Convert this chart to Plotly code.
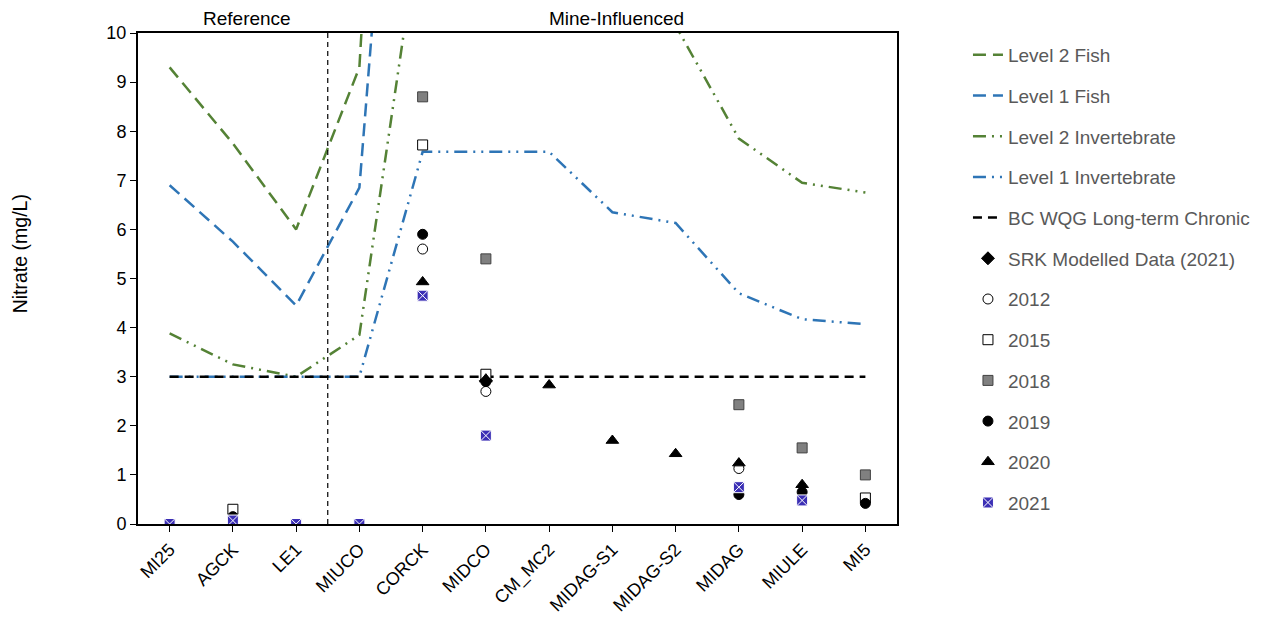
import plotly.graph_objects as go

cats = ["MI25", "AGCK", "LE1", "MIUCO", "CORCK", "MIDCO", "CM_MC2",
        "MIDAG-S1", "MIDAG-S2", "MIDAG", "MIULE", "MI5"]

level2_fish = [9.3, 7.75, 6.0, 9.3, 31, 30, 29, 26, 25, 21, 19, 18]
level1_fish = [6.9, 5.75, 4.45, 6.85, 23, 22, 21, 19, 18, 15, 14, 13]
level2_invert = [3.88, 3.25, 3.0, 3.85, 12.6, 12.6, 12.6, 10.55, 10.15, 7.85, 6.95, 6.75]
level1_invert = [3.0, 3.0, 3.0, 3.0, 7.58, 7.58, 7.58, 6.35, 6.13, 4.7, 4.17, 4.07]
bc_wqg = [3.0] * 12

srk_2021 = [None, None, None, None, None, 2.92, None, None, None, None, None, None]
y2012 = [None, None, None, None, 5.6, 2.7, None, None, None, 1.13, None, None]
y2015 = [None, 0.3, None, None, 7.72, 3.05, None, None, None, None, None, 0.53]
y2018 = [None, None, None, None, 8.7, 5.4, None, None, None, 2.43, 1.55, 1.0]
y2019 = [None, 0.15, None, None, 5.9, 2.9, None, None, None, 0.6, 0.65, 0.42]
y2020 = [None, None, None, None, 4.93, 2.95, 2.83, 1.7, 1.43, 1.24, 0.8, None]
y2021 = [0.0, 0.07, 0.0, 0.0, 4.65, 1.8, None, None, None, 0.75, 0.48, None]

GREEN = "#548235"
BLUE = "#2E75B6"
FONT = "Liberation Sans, Arial, sans-serif"

fig = go.Figure()

def line_trace(name, y, color, dash, width=2.5):
    fig.add_trace(go.Scatter(x=cats, y=y, name=name, mode="lines",
                             line=dict(color=color, dash=dash, width=width),
                             legendgroup=name, hoverinfo="skip"))

line_trace("Level 2 Fish", level2_fish, GREEN, "13px,7px")
line_trace("Level 1 Fish", level1_fish, BLUE, "13px,7px")
line_trace("Level 2 Invertebrate", level2_invert, GREEN, "13px,6px,2px,6px,2px,6px")
line_trace("Level 1 Invertebrate", level1_invert, BLUE, "13px,6px,2px,6px,2px,6px")
line_trace("BC WQG Long-term Chronic", bc_wqg, "black", "9px,6px")

def marker_trace(name, y, symbol, color, lcolor, size=10, lw=1):
    fig.add_trace(go.Scatter(x=cats, y=y, name=name, mode="markers",
                             marker=dict(symbol=symbol, color=color, size=size,
                                         line=dict(color=lcolor, width=lw)),
                             legendgroup=name))

marker_trace("SRK Modelled Data (2021)", srk_2021, "diamond", "black", "black", 10)
marker_trace("2012", y2012, "circle", "white", "black", 10)
marker_trace("2015", y2015, "square", "white", "black", 10)
marker_trace("2018", y2018, "square", "#808080", "#404040", 10)
marker_trace("2019", y2019, "circle", "black", "black", 10)
marker_trace("2020", y2020, "triangle-up", "black", "black", 11)
marker_trace("2021", y2021, "square-x", "#3B2FB5", "white", 11, 1)

fig.add_shape(type="line", xref="x", yref="y", x0=2.5, x1=2.5, y0=0, y1=10,
              line=dict(color="black", width=1.2, dash="5px,4px"))

fig.add_annotation(text="Reference", xref="paper", yref="paper", x=0.1436, y=1,
                   xanchor="center", yanchor="bottom", yshift=2, showarrow=False,
                   font=dict(size=19, color="black", family=FONT))
fig.add_annotation(text="Mine-Influenced", xref="paper", yref="paper", x=0.631, y=1,
                   xanchor="center", yanchor="bottom", yshift=2, showarrow=False,
                   font=dict(size=19, color="black", family=FONT))
fig.add_annotation(text="Nitrate (mg/L)", xref="paper", yref="paper", x=-0.155, y=0.55,
                   xanchor="center", yanchor="middle", textangle=-90, showarrow=False,
                   font=dict(size=19.5, color="black", family=FONT))

fig.update_layout(
    width=1268, height=620,
    margin=dict(l=138, r=371, t=33, b=96),
    plot_bgcolor="white", paper_bgcolor="white",
    font=dict(family=FONT, size=18, color="black"),
    showlegend=True,
    legend=dict(x=1.0935, y=0.994, xanchor="left", yanchor="top",
                font=dict(size=19, color="#595959", family=FONT),
                tracegroupgap=13, bgcolor="rgba(0,0,0,0)"),
    xaxis=dict(type="category", range=[-0.5, 11.5], tickangle=-45, automargin=False,
               showline=True, linecolor="black", linewidth=2, mirror=True,
               ticks="outside", ticklen=6, tickcolor="black", showgrid=False,
               tickfont=dict(size=18, color="black", family=FONT)),
    yaxis=dict(range=[0, 10], dtick=1, showline=True, linecolor="black", linewidth=2,
               mirror=True, ticks="outside", ticklen=6, tickcolor="black", automargin=False,
               showgrid=False, zeroline=False,
               tickfont=dict(size=18, color="black", family=FONT)),
)

fig.write_html("out.html")
